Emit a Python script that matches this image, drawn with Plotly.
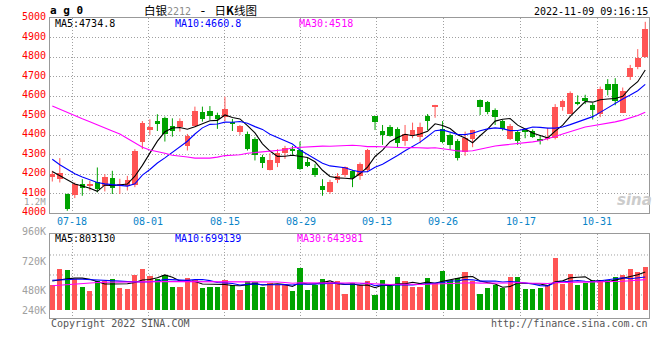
import plotly.graph_objects as go

# ---------------- data ----------------
dates = ["07-13","07-14","07-15","07-18","07-19","07-20","07-21","07-22","07-25","07-26",
         "07-27","07-28","07-29","08-01","08-02","08-03","08-04","08-05","08-08","08-09",
         "08-10","08-11","08-12","08-15","08-16","08-17","08-18","08-19","08-22","08-23",
         "08-24","08-25","08-26","08-29","08-30","08-31","09-01","09-02","09-05","09-06",
         "09-07","09-08","09-09","09-13","09-14","09-15","09-16","09-19","09-20","09-21",
         "09-22","09-23","09-26","09-27","09-28","09-29","09-30","10-10","10-11","10-12",
         "10-13","10-14","10-17","10-18","10-19","10-20","10-21","10-24","10-25","10-26",
         "10-27","10-28","10-31","11-01","11-02","11-03","11-04","11-07","11-08","11-09"]

opens = [4186,4175,4100,4092,4150,4141,4160,4138,4177,4143,
         4138,4146,4363,4424,4473,4487,4448,4439,4346,4448,
         4519,4525,4504,4491,4467,4414,4407,4381,4288,4223,
         4254,4308,4325,4325,4261,4233,4141,4109,4168,4197,
         4213,4192,4218,4499,4422,4441,4431,4368,4402,4388,
         4496,4547,4431,4402,4371,4312,4380,4581,4571,4530,
         4473,4380,4414,4427,4421,4379,4382,4384,4545,4510,
         4571,4588,4554,4506,4662,4662,4515,4696,4747,4798]
highs = [4218,4283,4101,4158,4175,4167,4235,4201,4218,4177,
         4192,4329,4473,4482,4508,4496,4487,4487,4407,4547,
         4547,4550,4516,4598,4484,4453,4419,4390,4300,4308,
         4329,4346,4346,4368,4283,4252,4175,4172,4206,4240,
         4223,4261,4330,4499,4453,4453,4441,4453,4465,4465,
         4509,4556,4473,4410,4380,4419,4428,4584,4576,4538,
         4479,4458,4427,4436,4430,4401,4438,4560,4583,4625,
         4605,4608,4566,4650,4688,4693,4645,4761,4842,4982]
lows = [4163,4158,4013,4078,4090,4117,4107,4112,4099,4099,
        4117,4134,4329,4402,4422,4368,4393,4419,4322,4444,
        4470,4479,4433,4473,4422,4402,4322,4271,4232,4220,
        4237,4279,4300,4223,4237,4186,4090,4100,4155,4186,
        4134,4172,4211,4427,4351,4393,4337,4346,4385,4359,
        4427,4490,4359,4325,4271,4295,4339,4504,4508,4453,
        4424,4376,4351,4385,4387,4353,4374,4379,4526,4509,
        4554,4560,4481,4493,4605,4554,4514,4684,4739,4798]
closes = [4200,4203,4019,4150,4126,4146,4121,4184,4129,4150,
          4167,4320,4462,4443,4458,4407,4419,4473,4397,4521,
          4482,4499,4484,4535,4456,4445,4330,4296,4254,4271,
          4308,4334,4320,4228,4243,4196,4117,4160,4192,4235,
          4180,4252,4325,4465,4398,4397,4359,4407,4427,4441,
          4470,4549,4363,4351,4283,4385,4427,4542,4519,4491,
          4431,4448,4371,4419,4391,4367,4387,4543,4574,4616,
          4560,4574,4526,4637,4633,4574,4628,4744,4795,4943]

ma5 = [4214,4192,4168,4150,4139.6,4128.8,4112.4,4145.4,4141.2,4146,
       4150.2,4190,4245.6,4308.4,4370,4418,4437.8,4440,4430.8,4443.4,
       4458.4,4474.4,4476.6,4504.2,4491.2,4483.8,4450,4412.4,4356.2,4319.2,
       4291.8,4292.6,4297.4,4292.2,4286.6,4264.2,4220.8,4188.8,4181.6,4180,
       4176.8,4203.8,4236.8,4291.4,4324,4367.4,4388.8,4405.2,4397.6,4406.2,
       4420.8,4458.8,4450,4434.8,4403.2,4386.2,4361.8,4397.6,4431.2,4472.8,
       4482,4486.2,4452,4432,4412,4399.2,4387,4421.4,4452.4,4497.4,
       4536,4573.4,4570,4582.6,4586,4588.8,4599.6,4643.2,4674.8,4734.8]
ma10 = [4277,4249,4226,4203,4186,4172,4158,4151,4148,4142.8,
        4139.5,4151.2,4195.5,4224.8,4258,4284.1,4313.9,4342.8,4369.6,4406.7,
        4438.2,4456.1,4458.3,4467.5,4467.3,4471.1,4462.2,4444.5,4430.2,4405.2,
        4387.8,4371.3,4354.9,4324.2,4302.9,4278,4256.7,4243.1,4236.9,4233.3,
        4220.5,4212.3,4212.8,4236.5,4252,4272.1,4296.3,4321,4344.5,4365.1,
        4394.1,4423.8,4427.6,4416.2,4404.7,4403.5,4410.3,4423.8,4433,4438,
        4434.1,4424,4424.8,4431.6,4442.4,4440.6,4436.6,4436.7,4442.2,4454.7,
        4467.6,4480.2,4495.7,4517.5,4541.7,4562.4,4586.5,4606.6,4628.7,4660.8]
ma30 = [4550,4533,4518,4501,4485,4470,4453,4438,4422,4407,
        4385,4363,4339,4325,4318,4308,4298,4295,4289,4283,
        4283,4283,4288,4296,4298,4300,4308,4312,4313,4318.2,
        4321.8,4326.2,4336.2,4338.8,4342.7,4344.4,4344.3,4343.5,4345.6,4348.4,
        4348.8,4346.6,4342,4342.7,4340.7,4340.4,4338.4,4336.2,4337.2,4334.5,
        4334.1,4335.8,4331.8,4325.6,4319.9,4317.9,4321.1,4329.3,4338.1,4345.5,
        4349.6,4353.4,4355.1,4361.4,4366.4,4372.1,4381.1,4393.8,4406.6,4419.3,
        4431.9,4442.7,4449.4,4455.1,4462.9,4468.8,4477.8,4489,4501.3,4518]

# volume in thousands
volume_k = [532,863,842,648,490,407,614,600,655,469,
            448,738,863,717,648,738,490,490,676,634,
            469,490,490,634,531,428,614,593,490,566,
            531,517,407,883,428,531,655,593,600,345,
            573,517,614,324,634,510,697,614,490,490,
            676,573,821,634,676,800,614,345,469,531,
            469,697,697,448,448,469,531,1090,552,759,
            531,573,634,614,634,697,738,863,800,904]
vol_ma5_k = [614,640,660,675,675,650,600,552,553,549,
             557,582,635,647,683,741,691,617,608,606,
             552,552,552,543,523,515,539,560,531,538,
             559,539,502,581,553,553,581,618,561,545,
             553,526,530,475,532,520,556,556,589,560,
             593,569,610,639,676,701,709,614,581,552,
             486,502,573,568,552,552,519,597,618,680,
             693,701,610,622,597,630,663,709,746,803.13]
vol_ma10_k = [630,640,648,652,650,645,635,625,618,612,
              604,591,593,600,616,649,637,626,628,644,
              646,622,584,576,564,533,546,556,537,531,
              537,539,531,556,546,556,560,560,571,549,
              553,553,574,518,539,537,541,543,532,546,
              557,562,583,614,618,647,639,612,610,614,
              593,606,593,575,552,519,510,585,593,616,
              622,610,604,620,639,662,682,660,684,699.139]
vol_ma30_k = [517,530,545,558,568,577,584,589,592,595,
              597,598,599,600,600,601,601,601,601,600,
              600,600,599,599,598,598,597,597,596,595.6,
              595.5,584,569.5,577.3,575.3,579.4,580.8,580.5,578.7,574.6,
              578.7,571.4,563.1,550,549.5,541.9,548.8,552.9,546.7,541.9,
              548.8,551.6,562.6,562.6,567.5,579.9,579.9,571.6,570.9,569.7,
              567.7,573.7,583.3,568.8,569.5,567.4,563.3,579.9,578.3,592.1,
              590.7,592.5,593.2,602.9,602.9,609.1,610.5,618.8,629.1,643.981]

tick_labels = ["07-18","08-01","08-15","08-29","09-13","09-26","10-17","10-31"]
price_labels = [4000,4100,4200,4300,4400,4500,4600,4700,4800,4900,5000]
vol_labels = ["960K","720K","480K","240K"]
main_legend = ["MA5:4734.8", "MA10:4660.8", "MA30:4518"]
vol_legend = ["MA5:803130", "MA10:699139", "MA30:643981"]

# ---------------- styling / layout helpers ----------------
W, H = 660, 360
RED, GREEN = "#ff5454", "#00a300"
MA_COLORS = ["#000000", "#0000ff", "#ff00ff"]
MONO = "DejaVu Sans Mono"
GRID = "#a0a0a0"
grid_shift = [-0.33, -0.2, 0.0, 0.1, 0.2, 0.1, 0.4, 0.6]

def px_x(p): return p / W
def px_y(p): return 1 - p / H

n = len(dates)
x = list(range(n))
grid_pos = [dates.index(t) + s for t, s in zip(tick_labels, grid_shift)]
up = [c >= o for o, c in zip(opens, closes)]
colors = [RED if u else GREEN for u in up]

fig = go.Figure()

# wicks
for flag, col in ((True, RED), (False, GREEN)):
    wx, wy = [], []
    for i in x:
        if up[i] == flag:
            wx += [i, i, None]
            wy += [lows[i], highs[i], None]
    fig.add_trace(go.Scatter(x=wx, y=wy, mode="lines", line=dict(color=col, width=1),
                             xaxis="x", yaxis="y", hoverinfo="skip"))
# bodies
fig.add_trace(go.Bar(x=x, y=[max(abs(c - o), 4) for o, c in zip(opens, closes)],
                     base=[min(o, c) for o, c in zip(opens, closes)],
                     width=0.74, marker=dict(color=colors, line=dict(width=0)),
                     xaxis="x", yaxis="y"))
# price MAs
for series, col in zip((ma5, ma10, ma30), MA_COLORS):
    fig.add_trace(go.Scatter(x=x, y=series, mode="lines", line=dict(color=col, width=1.1),
                             xaxis="x", yaxis="y"))

# volume
fig.add_trace(go.Bar(x=x, y=volume_k, width=0.7, marker=dict(color=colors, line=dict(width=0)),
                     xaxis="x2", yaxis="y2"))
for series, col in zip((vol_ma5_k, vol_ma10_k, vol_ma30_k), MA_COLORS):
    fig.add_trace(go.Scatter(x=x, y=series, mode="lines", line=dict(color=col, width=1.1),
                             xaxis="x2", yaxis="y2"))

xdom = [px_x(50), px_x(649)]
xr = [-0.306, 79.5]
axis_common = dict(showline=True, mirror=True, linecolor="#999999", linewidth=1,
                   zeroline=False, ticks="", showticklabels=False)

fig.update_layout(
    width=W, height=H, margin=dict(l=0, r=0, t=0, b=0),
    paper_bgcolor="white", plot_bgcolor="white",
    showlegend=False, barmode="overlay", bargap=0,
    xaxis=dict(domain=xdom, range=xr, anchor="y", tickvals=grid_pos, showgrid=True,
               gridcolor=GRID, griddash="1px,2px", gridwidth=1, **axis_common),
    yaxis=dict(domain=[px_y(213.3), px_y(18.3)], range=[4000, 5000], anchor="x",
               tickvals=price_labels[1:-1], showgrid=True, gridcolor=GRID,
               griddash="1px,2px", gridwidth=1, **axis_common),
    xaxis2=dict(domain=xdom, range=xr, anchor="y2", tickvals=grid_pos, showgrid=True,
                gridcolor=GRID, griddash="1px,2px", gridwidth=1, **axis_common),
    yaxis2=dict(domain=[px_y(318), px_y(234.3)], range=[-151.1, 1581.5], anchor="x2",
                showgrid=False, **axis_common),
)

# volume panel horizontal dotted lines
for f in (0.753, 0.514, 0.275):
    fig.add_shape(type="line", xref="x2 domain", yref="y2 domain", x0=0, x1=1, y0=f, y1=f,
                  line=dict(color=GRID, width=1, dash="1px,2px"), layer="below")

ann = []
def text(xp, yp, s, color="#000", size=10, anchor="left", family=MONO, **kw):
    ann.append(dict(x=px_x(xp), y=px_y(yp), xref="paper", yref="paper", text=s,
                    showarrow=False, xanchor=anchor, yanchor="middle", borderpad=0,
                    font=dict(family=family, size=size, color=color, **kw)))

# header
text(49, 10.5, "a g 0", size=11, weight="bold")
text(200, 9.5,
     "白银<span style='color:#8a8a8a;font-family:DejaVu Sans Mono;font-size:10px'>2212</span>"
     "<span style='font-family:DejaVu Sans Mono;font-size:13px'> - </span>日<b>K</b>线图",
     size=11.5, anchor="center", family="Noto Sans CJK SC")
text(649, 11.5, "2022-11-09 09:16:15", anchor="right")

# legends
for s, xp, col in zip(main_legend, (54, 174, 297.5), MA_COLORS):
    text(xp, 24, s, color=col)
for s, xp, col in zip(vol_legend, (54, 174, 296), MA_COLORS):
    text(xp, 238, s, color=col)

# price labels
for p in price_labels:
    ann.append(dict(x=px_x(46.5), y=p, xref="paper", yref="y", text=str(p), showarrow=False,
                    xanchor="right", yanchor="middle", yshift=1.5, borderpad=0,
                    font=dict(family=MONO, size=10, color="#ff0000")))
text(46.5, 201.5, "1.2M", color="#a0a0a0", anchor="right", size=9)

# volume labels
for s, yp in zip(vol_labels, (231, 261, 290.7, 310.7)):
    text(46.5, yp, s, color="#a0a0a0", anchor="right")

# date labels
for t, gp in zip(tick_labels, grid_pos):
    ann.append(dict(x=gp, y=px_y(221.7), xref="x", yref="paper", text=t, showarrow=False,
                    xanchor="center", yanchor="middle", borderpad=0,
                    font=dict(family=MONO, size=10, color="#0a84c8")))

# footer
text(50, 323, "Copyright 2022 SINA.COM", color="#555555")
text(649, 323.5, "http://finance.sina.com.cn", color="#555555", anchor="right")

# watermark
text(634, 200, "sina", color="#cccccc", size=15, anchor="center", family="DejaVu Sans",
     weight="bold", style="italic")

fig.update_layout(annotations=ann)
fig.write_html("out.html", config={"displayModeBar": False},
               post_script="document.body.style.margin='0px';document.body.style.padding='0px';")
